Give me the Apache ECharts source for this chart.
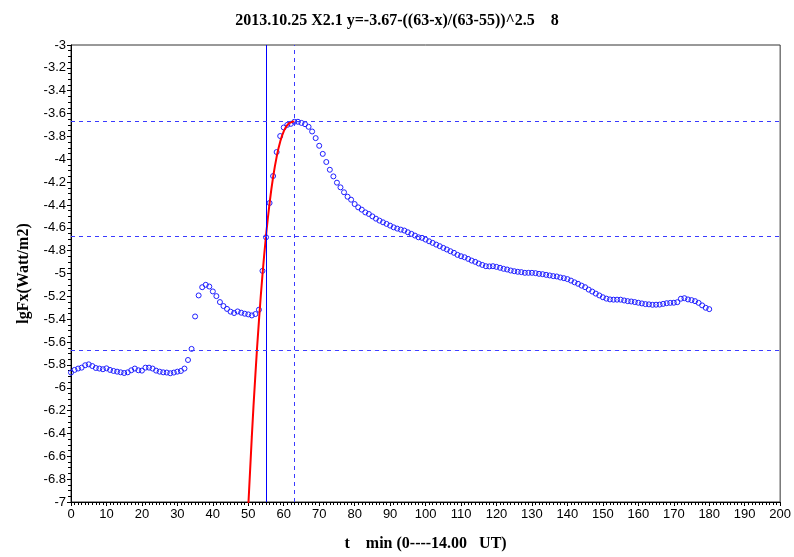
<!DOCTYPE html>
<html><head><meta charset="utf-8">
<script src="https://cdn.jsdelivr.net/npm/echarts@6/dist/echarts.min.js"></script>
<style>html,body{margin:0;padding:0;background:#fff}#c{width:794px;height:557px}</style>
</head><body><div id="c"></div>
<script>
// Observed lgFx values, one per minute starting at t = 0
const lgFx = [
-5.867,-5.844,-5.832,-5.824,-5.803,-5.795,-5.810,-5.827,-5.832,-5.838,
-5.830,-5.844,-5.853,-5.859,-5.865,-5.871,-5.865,-5.847,-5.832,-5.847,
-5.850,-5.824,-5.824,-5.832,-5.850,-5.859,-5.865,-5.867,-5.873,-5.867,
-5.859,-5.853,-5.832,-5.757,-5.660,-5.376,-5.192,-5.120,-5.099,-5.114,
-5.157,-5.198,-5.250,-5.285,-5.310,-5.334,-5.346,-5.332,-5.343,-5.352,
-5.358,-5.367,-5.355,-5.317,-4.977,-4.683,-4.383,-4.147,-3.937,-3.797,
-3.722,-3.699,-3.690,-3.672,-3.672,-3.682,-3.693,-3.716,-3.757,-3.815,
-3.882,-3.953,-4.024,-4.092,-4.150,-4.205,-4.246,-4.289,-4.328,-4.354,
-4.392,-4.421,-4.441,-4.465,-4.479,-4.500,-4.520,-4.537,-4.552,-4.566,
-4.581,-4.596,-4.607,-4.616,-4.624,-4.639,-4.653,-4.668,-4.683,-4.688,
-4.703,-4.718,-4.732,-4.747,-4.761,-4.776,-4.790,-4.805,-4.819,-4.837,
-4.849,-4.858,-4.872,-4.887,-4.898,-4.913,-4.925,-4.936,-4.938,-4.936,
-4.942,-4.950,-4.959,-4.965,-4.974,-4.980,-4.985,-4.988,-4.994,-4.994,
-4.994,-4.997,-5.003,-5.006,-5.012,-5.017,-5.023,-5.026,-5.035,-5.041,
-5.049,-5.062,-5.077,-5.090,-5.106,-5.120,-5.141,-5.158,-5.176,-5.192,
-5.208,-5.220,-5.227,-5.229,-5.229,-5.229,-5.236,-5.242,-5.245,-5.250,
-5.256,-5.262,-5.268,-5.270,-5.274,-5.273,-5.272,-5.266,-5.260,-5.257,
-5.256,-5.251,-5.221,-5.216,-5.227,-5.233,-5.242,-5.257,-5.279,-5.300,
-5.312
];
// Fitted curve (red)
const fitX = [50, 51, 52, 53, 54, 55, 56, 57, 58, 59, 60, 61, 62, 63];
const fitY = [-7.036,-6.426,-5.887,-5.417,-5.012,-4.670,-4.386,-4.157,-3.979,-3.847,-3.756,-3.701,-3.676,-3.670];
// Reference lines
const hLines = [-3.67, -4.67, -5.67];
const vSolid = [55];
const vDashed = [63];
const titleText = '2013.10.25 X2.1 y=-3.67-((63-x)/(63-55))^2.5    8';
const xName = 't    min (0----14.00   UT)';
const yName = 'lgFx(Watt/m2)';

const pts = lgFx.map((v, i) => [i, v]);
const fit = fitX.map((x, i) => [x, fitY[i]]);

const chart = echarts.init(document.getElementById('c'), null, {renderer: 'canvas'});
const lblFont = {fontFamily: 'Liberation Sans', fontSize: 13, color: '#000'};
const dashStyle = {color: '#3a3aff', type: [4, 4], width: 1, opacity: 1};
function refSeries(item, style) {
  return {
    type: 'line', data: [], z: 2, silent: true,
    markLine: {silent: true, symbol: ['none', 'none'], label: {show: false}, animation: false,
      lineStyle: style, emphasis: {disabled: true}, data: [item]}
  };
}
chart.setOption({
  animation: false,
  backgroundColor: '#fff',
  title: {text: titleText, left: 'center', top: 8,
    textStyle: {fontFamily: 'Liberation Serif', fontWeight: 'bold', fontSize: 16, color: '#000'}},
  grid: {left: 71, right: 12, top: 45, bottom: 54, show: true, borderColor: '#333', borderWidth: 1},
  xAxis: {
    type: 'value', min: 0, max: 200, interval: 10,
    name: xName, nameLocation: 'middle', nameGap: 34,
    nameTextStyle: {fontFamily: 'Liberation Serif', fontWeight: 'bold', fontSize: 16, color: '#000'},
    axisLine: {show: true, onZero: false, lineStyle: {color: '#000'}},
    axisTick: {show: true, inside: false, length: 4, lineStyle: {color: '#000'}},
    minorTick: {show: true, splitNumber: 10, length: 3, lineStyle: {color: '#000'}},
    axisLabel: Object.assign({margin: 6}, lblFont),
    splitLine: {show: false}
  },
  yAxis: {
    type: 'value', min: -7, max: -3, interval: 0.2,
    name: yName, nameLocation: 'middle', nameGap: 39,
    nameTextStyle: {fontFamily: 'Liberation Serif', fontWeight: 'bold', fontSize: 16, color: '#000'},
    axisLine: {show: true, onZero: false, lineStyle: {color: '#000'}},
    axisTick: {show: true, inside: false, length: 4, lineStyle: {color: '#000'}},
    minorTick: {show: true, splitNumber: 4, length: 3, lineStyle: {color: '#000'}},
    axisLabel: Object.assign({margin: 5}, lblFont),
    splitLine: {show: false}
  },
  series: [
    ...vSolid.map(v => refSeries({xAxis: v}, {color: '#0000ff', type: 'solid', width: 1})),
    ...vDashed.map(v => refSeries({xAxis: v}, dashStyle)),
    ...hLines.map(v => refSeries({yAxis: v}, dashStyle)),
    {
      type: 'scatter', data: pts, symbol: 'circle', symbolSize: 5, z: 3,
      itemStyle: {color: 'rgba(255,255,255,0)', borderColor: '#2020ff', borderWidth: 1, opacity: 1}
    },
    {
      type: 'line', data: fit, smooth: true, showSymbol: false, clip: true,
      lineStyle: {color: '#ff0000', width: 2}, z: 4
    }
  ]
});
</script></body></html>
